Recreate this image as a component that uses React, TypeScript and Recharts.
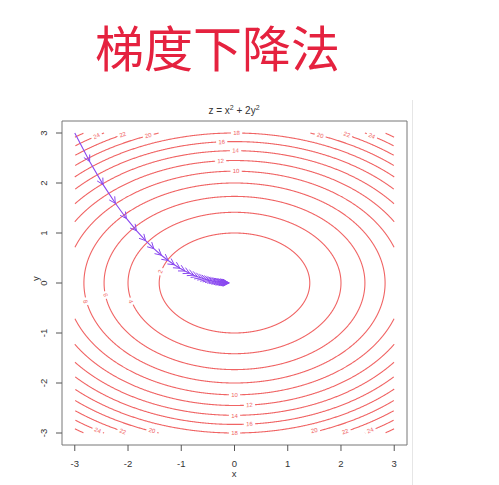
import React from "react";
import { ComposedChart, Line, XAxis, YAxis, ReferenceArea } from "recharts";

// contour levels of z = x^2 + 2y^2
const levels = [2, 4, 6, 8, 10, 12, 14, 16, 18, 20, 22, 24, 26];
const axisTicks = [-3, -2, -1, 0, 1, 2, 3];

// gradient descent iterates
const pathX = [
  -3, -2.721, -2.468, -2.238, -2.03, -1.841, -1.67, -1.515, -1.374, -1.246, -1.13, -1.025,
  -0.93, -0.843, -0.765, -0.694, -0.629, -0.571, -0.518, -0.47, -0.426, -0.386, -0.35,
  -0.318, -0.288, -0.261, -0.237, -0.215, -0.195, -0.177, -0.16, -0.146, -0.132, -0.12,
  -0.109, -0.098,
];
const pathY = [
  3, 2.43, 1.968, 1.594, 1.291, 1.046, 0.847, 0.686, 0.556, 0.45, 0.365, 0.295, 0.239,
  0.194, 0.157, 0.127, 0.103, 0.083, 0.068, 0.055, 0.044, 0.036, 0.029, 0.024, 0.019,
  0.015, 0.013, 0.01, 0.008, 0.007, 0.005, 0.004, 0.003, 0.003, 0.002, 0.002,
];

// inline contour labels
const labelText = [
  "24", "22", "20", "18", "16", "14", "12", "10", "20", "22", "24",
  "10", "12", "14", "16", "18", "24", "22", "20", "20", "22", "24",
  "2", "4", "6", "8",
];
const labelX = [
  -2.59, -2.1, -1.62, 0.04, -0.24, 0.02, -0.26, 0.03, 1.61, 2.11, 2.58,
  0, 0.28, 0, 0.28, 0, -2.57, -2.1, -1.55, 1.5, 2.08, 2.55,
  -1.39, -1.95, -2.42, -2.8,
];
const labelY = [
  2.94, 2.97, 2.95, 3.0, 2.82, 2.65, 2.44, 2.24, 2.95, 2.97, 2.94,
  -2.24, -2.44, -2.65, -2.82, -3.0, -2.95, -2.97, -2.95, -2.95, -2.97, -2.95,
  0.23, -0.37, -0.24, -0.37,
];

const W = 499;
const H = 485;
const M = { top: 121, right: 92, left: 0, bottom: 0 };
const Y_AXIS_W = 62;
const X_AXIS_H = 40;
const DOMAIN: [number, number] = [-3.24, 3.24];
const SX = (W - M.right - Y_AXIS_W) / (DOMAIN[1] - DOMAIN[0]);
const SY = (H - M.top - X_AXIS_H) / (DOMAIN[1] - DOMAIN[0]);

const CONTOUR = "#f06464";
const PATH = "#8a48f0";
const AXIS_TXT = "#333";
const FONT = "'Liberation Sans', Arial, sans-serif";

function contourPoints(level: number) {
  const a = Math.sqrt(level);
  const b = Math.sqrt(level / 2);
  const pts: { x: number; y: number | null }[] = [];
  const n = 1800;
  let inside = false;
  for (let i = 0; i <= n; i++) {
    const t = (i / n) * Math.PI * 2;
    const x = a * Math.cos(t);
    const y = b * Math.sin(t);
    if (Math.abs(x) <= 3 && Math.abs(y) <= 3) {
      pts.push({ x, y });
      inside = true;
    } else if (inside) {
      pts.push({ x, y: null });
      inside = false;
    }
  }
  return pts;
}

const contours = levels.map((l) => ({ level: l, data: contourPoints(l) }));
const pathData = pathX.map((x, i) => ({ x, y: pathY[i] }));
const labelData = labelX.map((x, i) => ({ x, y: labelY[i], t: labelText[i] }));

function LabelDot(props: any) {
  const { cx, cy, index } = props;
  if (cx == null || cy == null) return <g key={`l${index}`} />;
  const lx = labelX[index];
  const ly = labelY[index];
  // tangent of the level curve, in pixels
  let ang = (Math.atan2(-2 * lx * SY, -4 * ly * SX) * 180) / Math.PI;
  if (ang > 90) ang -= 180;
  if (ang < -90) ang += 180;
  const txt = labelText[index];
  const w = txt.length * 3.6 + 4;
  return (
    <g key={`l${index}`} transform={`translate(${cx},${cy}) rotate(${ang})`}>
      <rect x={-w / 2} y={-2.8} width={w} height={5.6} fill="#fff" />
      <text
        x={0}
        y={0}
        textAnchor="middle"
        dominantBaseline="central"
        fontSize={6}
        fontFamily={FONT}
        fill={CONTOUR}
      >
        {txt}
      </text>
    </g>
  );
}

function ArrowDot(props: any) {
  const { cx, cy, index } = props;
  if (!index || cx == null || cy == null) return <g key={`a${index}`} />;
  const dx = (pathX[index] - pathX[index - 1]) * SX;
  const dy = -(pathY[index] - pathY[index - 1]) * SY;
  const a = Math.atan2(dy, dx);
  const len = 7;
  const spread = (28 * Math.PI) / 180;
  const p1x = cx - len * Math.cos(a - spread);
  const p1y = cy - len * Math.sin(a - spread);
  const p2x = cx - len * Math.cos(a + spread);
  const p2y = cy - len * Math.sin(a + spread);
  return (
    <path
      key={`a${index}`}
      d={`M${p1x},${p1y}L${cx},${cy}L${p2x},${p2y}`}
      fill="none"
      stroke={PATH}
      strokeWidth={1}
    />
  );
}

function XTick(props: any) {
  const { x, y, payload } = props;
  return (
    <text x={x} y={y + 12} textAnchor="middle" dominantBaseline="central" fontSize={9.5} fontFamily={FONT} fill={AXIS_TXT}>
      {payload.value}
    </text>
  );
}

function YTick(props: any) {
  const { x, y, payload } = props;
  const tx = x - 13;
  return (
    <text
      x={tx}
      y={y}
      transform={`rotate(-90, ${tx}, ${y})`}
      textAnchor="middle"
      dominantBaseline="central"
      fontSize={9.5}
      fontFamily={FONT}
      fill={AXIS_TXT}
    >
      {payload.value}
    </text>
  );
}

export default function App() {
  return (
    <div style={{ position: "absolute", left: 0, top: 0, width: W, height: H, background: "#fff" }}>
      <div
        style={{
          position: "absolute",
          left: 95,
          top: 21,
          fontFamily: "'Noto Sans CJK SC', sans-serif",
          fontSize: 49,
          lineHeight: 1,
          color: "#e5223f",
          whiteSpace: "nowrap",
        }}
      >
        梯度下降法
      </div>
      <div
        style={{
          position: "absolute",
          left: 0,
          top: 102,
          width: 468,
          textAlign: "center",
          fontFamily: FONT,
          fontSize: 10,
          lineHeight: "12px",
          color: AXIS_TXT,
        }}
      >
        z = x<sup style={{ fontSize: 7 }}>2</sup> + 2y<sup style={{ fontSize: 7 }}>2</sup>
      </div>
      <div style={{ position: "absolute", left: 412, top: 100, width: 1, height: 385, background: "#e6e6e6" }} />
      <ComposedChart width={W} height={H} margin={M}>
        <XAxis
          type="number"
          dataKey="x"
          domain={DOMAIN}
          ticks={axisTicks}
          allowDataOverflow
          height={X_AXIS_H}
          axisLine={false}
          tickSize={6}
          tickMargin={0}
          tickLine={{ stroke: "#555" }}
          tick={<XTick />}
          interval={0}
        />
        <YAxis
          type="number"
          dataKey="y"
          domain={DOMAIN}
          ticks={axisTicks}
          allowDataOverflow
          width={Y_AXIS_W}
          axisLine={false}
          tickSize={6}
          tickMargin={0}
          tickLine={{ stroke: "#555" }}
          tick={<YTick />}
          interval={0}
        />
        {contours.map((c) => (
          <Line
            key={c.level}
            data={c.data}
            dataKey="y"
            type="linear"
            stroke={CONTOUR}
            strokeWidth={1.1}
            dot={false}
            activeDot={false}
            isAnimationActive={false}
          />
        ))}
        <Line
          data={labelData}
          dataKey="y"
          stroke="none"
          dot={LabelDot}
          activeDot={false}
          isAnimationActive={false}
        />
        <Line
          data={pathData}
          dataKey="y"
          type="linear"
          stroke={PATH}
          strokeWidth={1.1}
          dot={ArrowDot}
          activeDot={false}
          isAnimationActive={false}
        />
        <ReferenceArea
          x1={DOMAIN[0]}
          x2={DOMAIN[1]}
          y1={DOMAIN[0]}
          y2={DOMAIN[1]}
          fill="none"
          fillOpacity={0}
          stroke="#777"
          strokeWidth={1}
          ifOverflow="visible"
        />
      </ComposedChart>
      <div
        style={{ position: "absolute", left: 229, top: 468, width: 10, textAlign: "center", fontFamily: FONT, fontSize: 9.5, color: AXIS_TXT }}
      >
        x
      </div>
      <div
        style={{
          position: "absolute",
          left: 30,
          top: 273,
          width: 10,
          textAlign: "center",
          fontFamily: FONT,
          fontSize: 9.5,
          color: AXIS_TXT,
          transform: "rotate(-90deg)",
        }}
      >
        y
      </div>
    </div>
  );
}
